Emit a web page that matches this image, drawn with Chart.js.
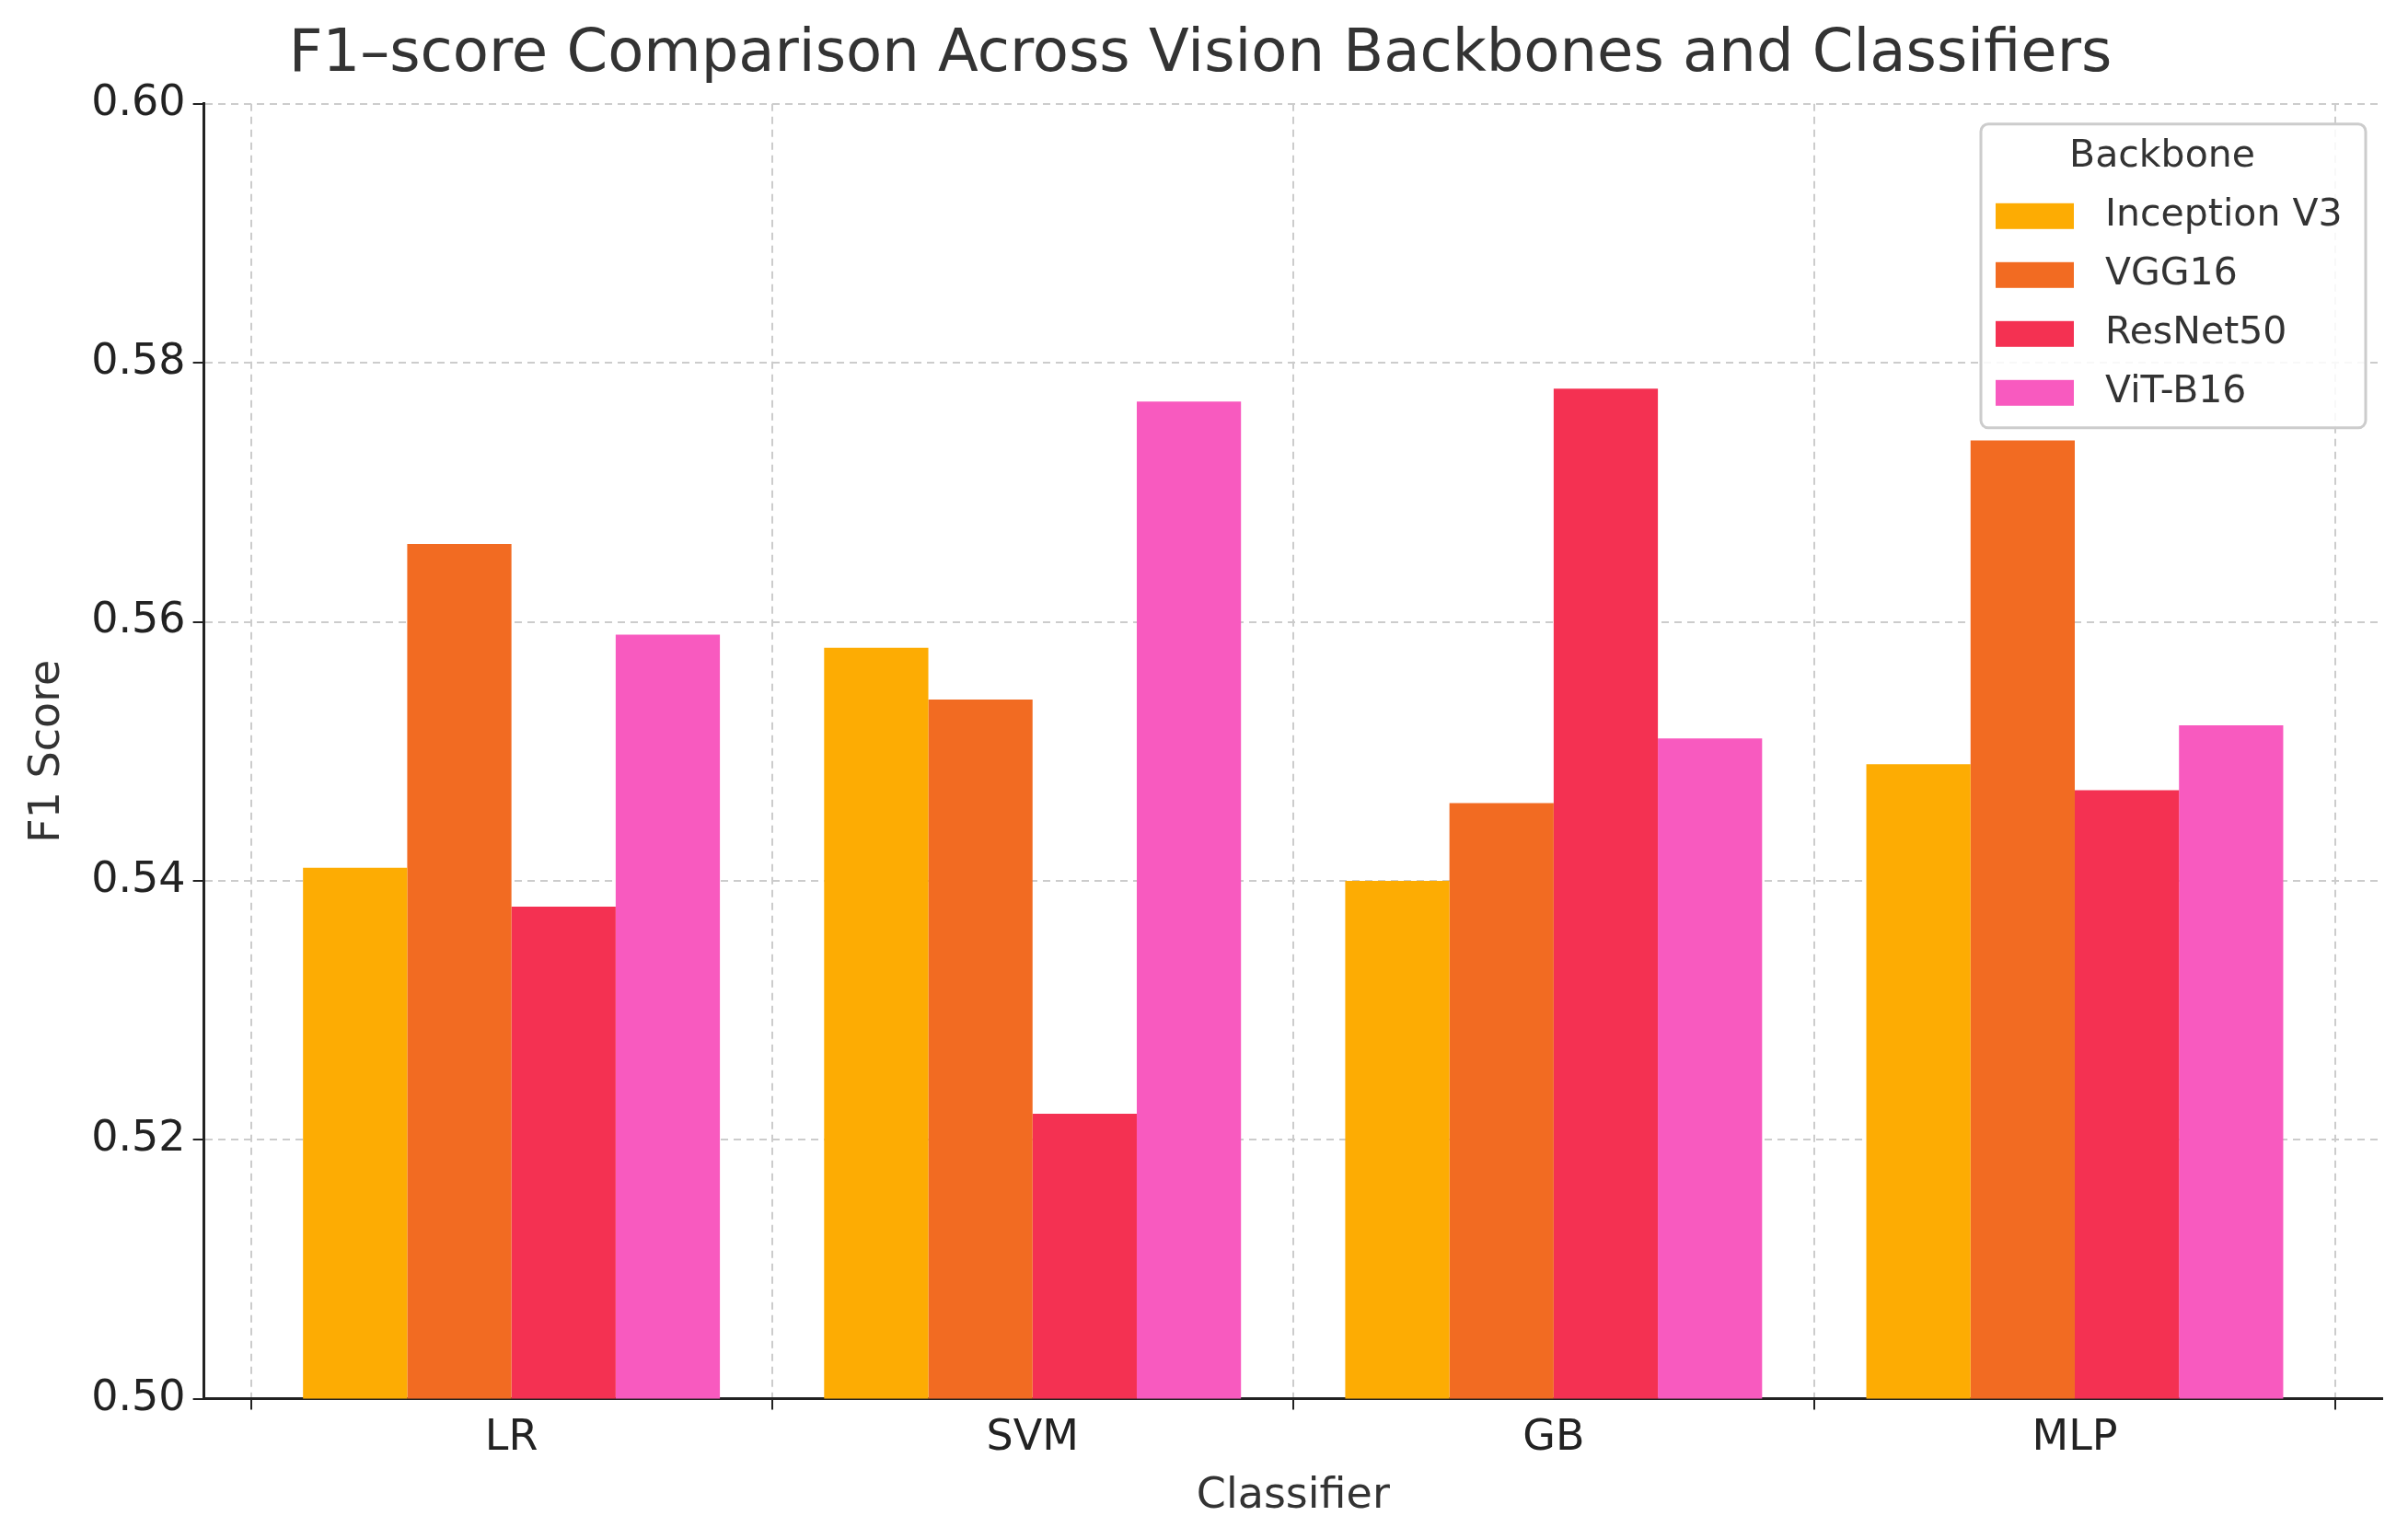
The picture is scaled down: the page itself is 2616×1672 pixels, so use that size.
<!DOCTYPE html>
<html><head><meta charset="utf-8">
<script src="https://cdn.jsdelivr.net/npm/chart.js@4/dist/chart.umd.min.js"></script>
<style>html,body{margin:0;padding:0;background:#fff}#wrap{width:2616px;height:1672px}</style>
</head><body><div id="wrap"><canvas id="c" width="2616" height="1672"></canvas></div>
<script>
const categories = ["LR","SVM","GB","MLP"];
const seriesNames = ["Inception V3","VGG16","ResNet50","ViT-B16"];
const inceptionV3 = [0.541,0.558,0.540,0.549];
const vgg16 = [0.566,0.554,0.546,0.574];
const resnet50 = [0.538,0.522,0.578,0.547];
const vitB16 = [0.559,0.577,0.551,0.552];
const colors = ["#FDAC03","#F26B22","#F43152","#F85ABF"];
const yTicks = [0.50,0.52,0.54,0.56,0.58,0.60];
const F = "DejaVu Sans";

const legendPlugin = {
  id:'boxLegend',
  afterDraw(chart){
    const ctx = chart.ctx, a = chart.chartArea;
    const w = 418, h = 330, x = a.right - w - 18, y = a.top + 22;
    ctx.save();
    ctx.fillStyle = 'rgba(255,255,255,0.85)';
    ctx.strokeStyle = '#cccccc'; ctx.lineWidth = 3;
    ctx.beginPath(); ctx.roundRect(x,y,w,h,8); ctx.fill(); ctx.stroke();
    ctx.fillStyle = '#333'; ctx.font = `41px "${F}"`; ctx.textBaseline='middle';
    ctx.textAlign='center'; ctx.fillText("Backbone", x + w/2 - 12, y + 36);
    ctx.textAlign='left';
    chart.data.datasets.forEach((ds,i)=>{
      const yy = y + 100 + i*64;
      ctx.fillStyle = ds.backgroundColor;
      ctx.fillRect(x+16, yy-14, 85, 28);
      ctx.fillStyle = '#333';
      ctx.fillText(ds.label, x + 135, yy);
    });
    ctx.restore();
  }
};

new Chart(document.getElementById('c'), {
  type:'bar',
  data:{datasets:[inceptionV3,vgg16,resnet50,vitB16].map((d,i)=>({
    label:seriesNames[i], data:d.map((v,j)=>({x:j,y:v})), backgroundColor:colors[i], borderWidth:0,
    categoryPercentage:0.8, barPercentage:1.0}))},
  options:{
    responsive:false, devicePixelRatio:1, animation:false,
    layout:{padding:{left:20,right:28,top:22,bottom:14}},
    plugins:{
      legend:{display:false}, tooltip:{enabled:false},
      title:{display:true, text:"F1\u2013score Comparison Across Vision Backbones and Classifiers",
        color:'#333', font:{family:F,size:64,weight:'normal'}, padding:{top:0,bottom:14}}
    },
    scales:{
      x:{type:'linear', min:-0.59, max:3.59, offset:false,
        afterBuildTicks(s){s.ticks = categories.map((c,i)=>({value:i}));},
        grid:{color:'#cccccc',lineWidth:2,drawTicks:true,tickLength:12,tickColor:'#222'},
        border:{display:true,color:'#222',width:3,dash:[8,6]},
        ticks:{color:'#222',font:{family:F,size:46},padding:4,callback:v=>categories[v]},
        title:{display:true,text:"Classifier",color:'#333',font:{family:F,size:46},padding:{top:4}}},
      y:{min:0.50,max:0.60,
        afterBuildTicks(s){s.ticks = yTicks.map(v=>({value:v}));},
        grid:{color:'#cccccc',lineWidth:2,tickLength:12,tickColor:'#222'},
        border:{display:true,color:'#222',width:3,dash:[8,6]},
        ticks:{color:'#222',font:{family:F,size:46},padding:8,callback:v=>v.toFixed(2)},
        title:{display:true,text:"F1 Score",color:'#333',font:{family:F,size:46},padding:{bottom:12}}}
    }
  },
  plugins:[legendPlugin]
});
</script></body></html>
